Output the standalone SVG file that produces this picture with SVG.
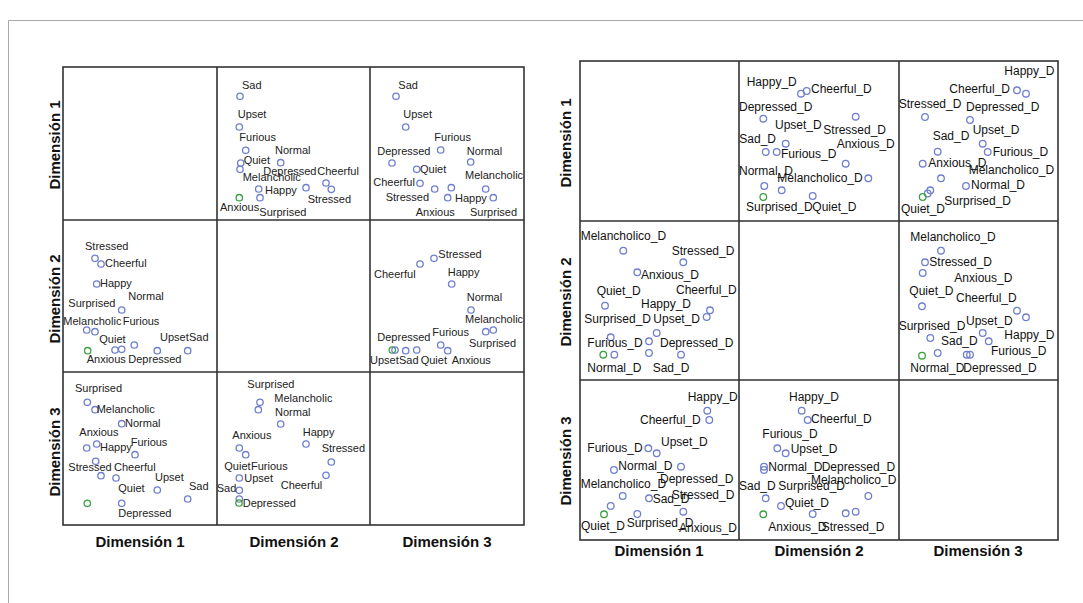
<svg xmlns="http://www.w3.org/2000/svg" width="1083" height="603" viewBox="0 0 1083 603">
<style>
.bg{fill:#fff}
.frame{fill:none;stroke:#a8a8a8;stroke-width:1}
.grid{fill:none;stroke:#333;stroke-width:1.6}
.p{fill:none;stroke:#6f7fcf;stroke-width:1.3}
.g{fill:none;stroke:#3aa040;stroke-width:1.3}
.t{font-family:"Liberation Sans",Arial,sans-serif;font-size:11px;fill:#222}
.tr{font-family:"Liberation Sans",Arial,sans-serif;font-size:12px;fill:#111}
.ax{font-family:"Liberation Sans",Arial,sans-serif;font-size:15px;font-weight:bold;fill:#111;text-anchor:middle}
</style>
<rect class="bg" x="0" y="0" width="1083" height="603"/>
<path class="frame" d="M8.5,603 V20.5 H1083"/>

<!-- LEFT MATRIX -->
<g id="left-grid">
<rect class="grid" x="63" y="67" width="461" height="458"/>
<path class="grid" d="M217,67 V525 M370,67 V525 M63,220 H524 M63,372 H524"/>
</g>
<g id="left-axis-labels">
<text class="ax" x="140" y="547">Dimensión 1</text>
<text class="ax" x="294" y="547">Dimensión 2</text>
<text class="ax" x="447" y="547">Dimensión 3</text>
<text class="ax" transform="translate(60,145) rotate(-90)">Dimensión 1</text>
<text class="ax" transform="translate(60,299) rotate(-90)">Dimensión 2</text>
<text class="ax" transform="translate(60,452) rotate(-90)">Dimensión 3</text>
</g>

<g id="L-r1c2">
<circle class="p" cx="240" cy="96.3" r="3.2"/>
<circle class="p" cx="239.3" cy="127" r="3.2"/>
<circle class="p" cx="245.7" cy="150.3" r="3.2"/>
<circle class="p" cx="240.7" cy="163" r="3.2"/>
<circle class="p" cx="240" cy="169.3" r="3.2"/>
<circle class="p" cx="280.7" cy="162.7" r="3.2"/>
<circle class="p" cx="326" cy="183" r="3.2"/>
<circle class="p" cx="331.3" cy="189.3" r="3.2"/>
<circle class="p" cx="258.7" cy="189" r="3.2"/>
<circle class="p" cx="260" cy="197.7" r="3.2"/>
<circle class="p" cx="306" cy="187.7" r="3.2"/>
<circle class="g" cx="239.3" cy="197.7" r="3.2"/>
<text class="t" x="242" y="88.7">Sad</text>
<text class="t" x="237.7" y="118">Upset</text>
<text class="t" x="239.3" y="141">Furious</text>
<text class="t" x="275" y="154.3">Normal</text>
<text class="t" x="243.7" y="164.3">Quiet</text>
<text class="t" x="263.3" y="175.3">Depressed</text>
<text class="t" x="242.7" y="181">Melancholic</text>
<text class="t" x="317.3" y="174.7">Cheerful</text>
<text class="t" x="265" y="194.3">Happy</text>
<text class="t" x="307.7" y="202.7">Stressed</text>
<text class="t" x="220" y="211.3">Anxious</text>
<text class="t" x="259.3" y="216">Surprised</text>
</g>

<g id="L-r1c3">
<circle class="p" cx="396" cy="96.3" r="3.2"/>
<circle class="p" cx="405.7" cy="127" r="3.2"/>
<circle class="p" cx="440.7" cy="150" r="3.2"/>
<circle class="p" cx="392" cy="163" r="3.2"/>
<circle class="p" cx="470.7" cy="162" r="3.2"/>
<circle class="p" cx="416.7" cy="169.3" r="3.2"/>
<circle class="p" cx="420" cy="183.3" r="3.2"/>
<circle class="p" cx="434.7" cy="189" r="3.2"/>
<circle class="p" cx="451.3" cy="187.7" r="3.2"/>
<circle class="p" cx="485.7" cy="189" r="3.2"/>
<circle class="p" cx="447.7" cy="197.7" r="3.2"/>
<circle class="p" cx="493.3" cy="197.7" r="3.2"/>
<text class="t" x="398.3" y="88.7">Sad</text>
<text class="t" x="403.3" y="118">Upset</text>
<text class="t" x="434.3" y="141">Furious</text>
<text class="t" x="377.3" y="154.7">Depressed</text>
<text class="t" x="466.7" y="154.7">Normal</text>
<text class="t" x="420" y="172.7">Quiet</text>
<text class="t" x="465" y="179.3">Melancholic</text>
<text class="t" x="373.3" y="186">Cheerful</text>
<text class="t" x="385.7" y="201">Stressed</text>
<text class="t" x="455" y="202">Happy</text>
<text class="t" x="415.7" y="216.3">Anxious</text>
<text class="t" x="470" y="216.3">Surprised</text>
</g>

<g id="L-r2c1">
<circle class="p" cx="95" cy="258.3" r="3.2"/>
<circle class="p" cx="101" cy="264" r="3.2"/>
<circle class="p" cx="96.7" cy="284" r="3.2"/>
<circle class="p" cx="121.7" cy="310" r="3.2"/>
<circle class="p" cx="86.7" cy="330" r="3.2"/>
<circle class="p" cx="95" cy="331.7" r="3.2"/>
<circle class="p" cx="115" cy="350" r="3.2"/>
<circle class="p" cx="121.7" cy="349.3" r="3.2"/>
<circle class="p" cx="134.3" cy="345" r="3.2"/>
<circle class="p" cx="157.3" cy="350.7" r="3.2"/>
<circle class="p" cx="187.7" cy="350.7" r="3.2"/>
<circle class="g" cx="87.7" cy="350.7" r="3.2"/>
<text class="t" x="85" y="250">Stressed</text>
<text class="t" x="105" y="267.3">Cheerful</text>
<text class="t" x="100" y="287.3">Happy</text>
<text class="t" x="128.3" y="300">Normal</text>
<text class="t" x="68.3" y="306.7">Surprised</text>
<text class="t" x="63.3" y="325">Melancholic</text>
<text class="t" x="122.7" y="325">Furious</text>
<text class="t" x="99.3" y="342.7">Quiet</text>
<text class="t" x="160" y="341">Upset</text>
<text class="t" x="189" y="341">Sad</text>
<text class="t" x="86.7" y="363.3">Anxious</text>
<text class="t" x="128.3" y="363.3">Depressed</text>
</g>

<g id="L-r2c3">
<circle class="p" cx="420" cy="264" r="3.2"/>
<circle class="p" cx="434" cy="258.3" r="3.2"/>
<circle class="p" cx="451.7" cy="284" r="3.2"/>
<circle class="p" cx="471" cy="310" r="3.2"/>
<circle class="p" cx="485.7" cy="331.7" r="3.2"/>
<circle class="p" cx="493.3" cy="330" r="3.2"/>
<circle class="p" cx="440.7" cy="345" r="3.2"/>
<circle class="p" cx="447.7" cy="350.7" r="3.2"/>
<circle class="g" cx="392.3" cy="350" r="3.2"/>
<circle class="p" cx="395" cy="350" r="3.2"/>
<circle class="p" cx="405.7" cy="350.7" r="3.2"/>
<circle class="p" cx="416.7" cy="350" r="3.2"/>
<text class="t" x="438.3" y="258.3">Stressed</text>
<text class="t" x="374" y="278.3">Cheerful</text>
<text class="t" x="447.7" y="275.7">Happy</text>
<text class="t" x="466.7" y="301">Normal</text>
<text class="t" x="465" y="323.3">Melancholic</text>
<text class="t" x="377.3" y="340.7">Depressed</text>
<text class="t" x="432.3" y="336">Furious</text>
<text class="t" x="469" y="346.7">Surprised</text>
<text class="t" x="370" y="364">Upset</text>
<text class="t" x="399" y="364">Sad</text>
<text class="t" x="420.7" y="364">Quiet</text>
<text class="t" x="451.7" y="364">Anxious</text>
</g>

<g id="L-r3c1">
<circle class="p" cx="87.3" cy="402.3" r="3.2"/>
<circle class="p" cx="95" cy="409.7" r="3.2"/>
<circle class="p" cx="121.7" cy="423.7" r="3.2"/>
<circle class="p" cx="86.7" cy="448" r="3.2"/>
<circle class="p" cx="96.7" cy="444" r="3.2"/>
<circle class="p" cx="135" cy="454.7" r="3.2"/>
<circle class="p" cx="95.7" cy="461.3" r="3.2"/>
<circle class="p" cx="101" cy="475.7" r="3.2"/>
<circle class="p" cx="116" cy="478" r="3.2"/>
<circle class="p" cx="157.3" cy="490" r="3.2"/>
<circle class="p" cx="187.7" cy="499" r="3.2"/>
<circle class="p" cx="121.7" cy="503.3" r="3.2"/>
<circle class="g" cx="87.3" cy="503.3" r="3.2"/>
<text class="t" x="75" y="392">Surprised</text>
<text class="t" x="96.7" y="413">Melancholic</text>
<text class="t" x="125" y="427">Normal</text>
<text class="t" x="79.3" y="436.3">Anxious</text>
<text class="t" x="100" y="451.3">Happy</text>
<text class="t" x="130.7" y="446.3">Furious</text>
<text class="t" x="68.3" y="470.7">Stressed</text>
<text class="t" x="114" y="470.7">Cheerful</text>
<text class="t" x="155" y="481.3">Upset</text>
<text class="t" x="118.3" y="492.3">Quiet</text>
<text class="t" x="189" y="490.3">Sad</text>
<text class="t" x="118.3" y="517">Depressed</text>
</g>

<g id="L-r3c2">
<circle class="p" cx="260" cy="402.3" r="3.2"/>
<circle class="p" cx="258.3" cy="409.7" r="3.2"/>
<circle class="p" cx="280.7" cy="424" r="3.2"/>
<circle class="p" cx="306" cy="444" r="3.2"/>
<circle class="p" cx="239.3" cy="448" r="3.2"/>
<circle class="p" cx="245.7" cy="454.7" r="3.2"/>
<circle class="p" cx="331.3" cy="462" r="3.2"/>
<circle class="p" cx="326" cy="475.3" r="3.2"/>
<circle class="p" cx="239.3" cy="478" r="3.2"/>
<circle class="p" cx="239.3" cy="490.3" r="3.2"/>
<circle class="p" cx="239.3" cy="499" r="3.2"/>
<circle class="g" cx="239" cy="503" r="3.2"/>
<text class="t" x="247.3" y="388">Surprised</text>
<text class="t" x="274.3" y="402">Melancholic</text>
<text class="t" x="275" y="416.3">Normal</text>
<text class="t" x="302.7" y="435.7">Happy</text>
<text class="t" x="232.3" y="438.7">Anxious</text>
<text class="t" x="321.7" y="452.3">Stressed</text>
<text class="t" x="224.3" y="469.7">Quiet</text>
<text class="t" x="251" y="469.7">Furious</text>
<text class="t" x="244.3" y="482.3">Upset</text>
<text class="t" x="280.7" y="488.7">Cheerful</text>
<text class="t" x="216.7" y="492.3">Sad</text>
<text class="t" x="242.7" y="507.3">Depressed</text>
</g>

<!-- RIGHT MATRIX -->
<g id="right-grid">
<rect class="grid" x="580" y="61" width="478" height="479"/>
<path class="grid" d="M739,61 V540 M899,61 V540 M580,221 H1058 M580,380 H1058"/>
</g>
<g id="right-axis-labels">
<text class="ax" x="659" y="556">Dimensión 1</text>
<text class="ax" x="819" y="556">Dimensión 2</text>
<text class="ax" x="978" y="556">Dimensión 3</text>
<text class="ax" transform="translate(571,143) rotate(-90)">Dimensión 1</text>
<text class="ax" transform="translate(571,302) rotate(-90)">Dimensión 2</text>
<text class="ax" transform="translate(571,461) rotate(-90)">Dimensión 3</text>
</g>

<g id="R-r1c2">
<circle class="p" cx="801" cy="93.7" r="3.3"/>
<circle class="p" cx="806.7" cy="91" r="3.3"/>
<circle class="p" cx="763.3" cy="118.7" r="3.3"/>
<circle class="p" cx="855.7" cy="116.7" r="3.3"/>
<circle class="p" cx="785.7" cy="143.7" r="3.3"/>
<circle class="p" cx="765.7" cy="152" r="3.3"/>
<circle class="p" cx="776.7" cy="152" r="3.3"/>
<circle class="p" cx="845.7" cy="163.7" r="3.3"/>
<circle class="p" cx="868.3" cy="178.3" r="3.3"/>
<circle class="p" cx="764.3" cy="186" r="3.3"/>
<circle class="p" cx="781.7" cy="190.3" r="3.3"/>
<circle class="p" cx="812.7" cy="196" r="3.3"/>
<circle class="g" cx="763.3" cy="197" r="3.3"/>
<text class="tr" x="746.7" y="86">Happy_D</text>
<text class="tr" x="811" y="92.7">Cheerful_D</text>
<text class="tr" x="739" y="111">Depressed_D</text>
<text class="tr" x="775" y="128.7">Upset_D</text>
<text class="tr" x="823.3" y="133.7">Stressed_D</text>
<text class="tr" x="739.3" y="143.3">Sad_D</text>
<text class="tr" x="836.7" y="148.3">Anxious_D</text>
<text class="tr" x="781" y="158.3">Furious_D</text>
<text class="tr" x="739" y="175.3">Normal_D</text>
<text class="tr" x="777.3" y="181.7">Melancholico_D</text>
<text class="tr" x="746" y="211">Surprised_D</text>
<text class="tr" x="812.3" y="211">Quiet_D</text>
</g>

<g id="R-r1c3">
<circle class="p" cx="1017" cy="90.3" r="3.3"/>
<circle class="p" cx="1026" cy="93.7" r="3.3"/>
<circle class="p" cx="925" cy="117" r="3.3"/>
<circle class="p" cx="970" cy="120" r="3.3"/>
<circle class="p" cx="982.7" cy="143.7" r="3.3"/>
<circle class="p" cx="987.7" cy="152" r="3.3"/>
<circle class="p" cx="937.7" cy="151.7" r="3.3"/>
<circle class="p" cx="922.7" cy="163.7" r="3.3"/>
<circle class="p" cx="941" cy="178.3" r="3.3"/>
<circle class="p" cx="966" cy="186" r="3.3"/>
<circle class="p" cx="930.3" cy="190.3" r="3.3"/>
<circle class="p" cx="927.7" cy="193.5" r="3.3"/>
<circle class="g" cx="922.7" cy="197" r="3.3"/>
<text class="tr" x="1004.3" y="75">Happy_D</text>
<text class="tr" x="949.3" y="92.7">Cheerful_D</text>
<text class="tr" x="898.7" y="107.7">Stressed_D</text>
<text class="tr" x="966" y="111">Depressed_D</text>
<text class="tr" x="972.7" y="134.3">Upset_D</text>
<text class="tr" x="932.7" y="140.3">Sad_D</text>
<text class="tr" x="992.7" y="156">Furious_D</text>
<text class="tr" x="928.3" y="167">Anxious_D</text>
<text class="tr" x="968.7" y="174.3">Melancholico_D</text>
<text class="tr" x="971" y="189.3">Normal_D</text>
<text class="tr" x="944.3" y="205">Surprised_D</text>
<text class="tr" x="901" y="212.7">Quiet_D</text>
</g>

<g id="R-r2c1">
<circle class="p" cx="623.3" cy="250.7" r="3.3"/>
<circle class="p" cx="683.3" cy="262.3" r="3.3"/>
<circle class="p" cx="637.3" cy="272.3" r="3.3"/>
<circle class="p" cx="605" cy="305.7" r="3.3"/>
<circle class="p" cx="710" cy="310.3" r="3.3"/>
<circle class="p" cx="706.7" cy="317" r="3.3"/>
<circle class="p" cx="656.7" cy="333" r="3.3"/>
<circle class="p" cx="610.7" cy="337.3" r="3.3"/>
<circle class="p" cx="649" cy="341.3" r="3.3"/>
<circle class="p" cx="614.3" cy="354.7" r="3.3"/>
<circle class="p" cx="649" cy="353" r="3.3"/>
<circle class="p" cx="681" cy="354.7" r="3.3"/>
<circle class="g" cx="603.3" cy="354.7" r="3.3"/>
<text class="tr" x="580.7" y="240.3">Melancholico_D</text>
<text class="tr" x="671.7" y="255.3">Stressed_D</text>
<text class="tr" x="641" y="278.7">Anxious_D</text>
<text class="tr" x="596.7" y="294.7">Quiet_D</text>
<text class="tr" x="676" y="294">Cheerful_D</text>
<text class="tr" x="641" y="308">Happy_D</text>
<text class="tr" x="584.3" y="323">Surprised_D</text>
<text class="tr" x="653.3" y="323">Upset_D</text>
<text class="tr" x="587.3" y="347.3">Furious_D</text>
<text class="tr" x="660" y="347.3">Depressed_D</text>
<text class="tr" x="587.3" y="371.7">Normal_D</text>
<text class="tr" x="652.7" y="371.7">Sad_D</text>
</g>

<g id="R-r2c3">
<circle class="p" cx="941" cy="250.7" r="3.3"/>
<circle class="p" cx="925" cy="262.3" r="3.3"/>
<circle class="p" cx="922.7" cy="273" r="3.3"/>
<circle class="p" cx="922" cy="306.3" r="3.3"/>
<circle class="p" cx="1017" cy="310.7" r="3.3"/>
<circle class="p" cx="1026" cy="317.3" r="3.3"/>
<circle class="p" cx="982.7" cy="333" r="3.3"/>
<circle class="p" cx="988.7" cy="341.3" r="3.3"/>
<circle class="p" cx="930.3" cy="338" r="3.3"/>
<circle class="p" cx="937.7" cy="353" r="3.3"/>
<circle class="p" cx="966.7" cy="354.7" r="3.3"/>
<circle class="p" cx="970" cy="354.7" r="3.3"/>
<circle class="g" cx="922" cy="355.7" r="3.3"/>
<text class="tr" x="910.3" y="241.3">Melancholico_D</text>
<text class="tr" x="929.3" y="266.3">Stressed_D</text>
<text class="tr" x="954.3" y="282">Anxious_D</text>
<text class="tr" x="909.3" y="295.3">Quiet_D</text>
<text class="tr" x="956" y="302">Cheerful_D</text>
<text class="tr" x="898.7" y="329.7">Surprised_D</text>
<text class="tr" x="966" y="324.7">Upset_D</text>
<text class="tr" x="1004.3" y="338.7">Happy_D</text>
<text class="tr" x="941" y="344.7">Sad_D</text>
<text class="tr" x="991" y="355.3">Furious_D</text>
<text class="tr" x="910.3" y="371.7">Normal_D</text>
<text class="tr" x="963.3" y="371.7">Depressed_D</text>
</g>

<g id="R-r3c1">
<circle class="p" cx="707.3" cy="410.7" r="3.3"/>
<circle class="p" cx="709.3" cy="420" r="3.3"/>
<circle class="p" cx="648.3" cy="448.3" r="3.3"/>
<circle class="p" cx="656.7" cy="453.3" r="3.3"/>
<circle class="p" cx="614" cy="470" r="3.3"/>
<circle class="p" cx="681" cy="466.7" r="3.3"/>
<circle class="p" cx="622.7" cy="496" r="3.3"/>
<circle class="p" cx="649" cy="498.3" r="3.3"/>
<circle class="p" cx="610.7" cy="506" r="3.3"/>
<circle class="p" cx="683.3" cy="511.7" r="3.3"/>
<circle class="p" cx="637.3" cy="514" r="3.3"/>
<circle class="g" cx="604" cy="514.3" r="3.3"/>
<text class="tr" x="687.7" y="401">Happy_D</text>
<text class="tr" x="640" y="424">Cheerful_D</text>
<text class="tr" x="661" y="445.7">Upset_D</text>
<text class="tr" x="587.3" y="452.3">Furious_D</text>
<text class="tr" x="618.3" y="470">Normal_D</text>
<text class="tr" x="660" y="483.3">Depressed_D</text>
<text class="tr" x="580.7" y="488.3">Melancholico_D</text>
<text class="tr" x="671.7" y="499">Stressed_D</text>
<text class="tr" x="652.7" y="503.3">Sad_D</text>
<text class="tr" x="626.7" y="526.7">Surprised_D</text>
<text class="tr" x="581" y="530">Quiet_D</text>
<text class="tr" x="679" y="532">Anxious_D</text>
</g>

<g id="R-r3c2">
<circle class="p" cx="801.7" cy="410.7" r="3.3"/>
<circle class="p" cx="807.7" cy="420" r="3.3"/>
<circle class="p" cx="777.3" cy="448.3" r="3.3"/>
<circle class="p" cx="785.7" cy="453.3" r="3.3"/>
<circle class="p" cx="764" cy="466.7" r="3.3"/>
<circle class="p" cx="764" cy="470" r="3.3"/>
<circle class="p" cx="868.3" cy="496" r="3.3"/>
<circle class="p" cx="765.7" cy="498.3" r="3.3"/>
<circle class="p" cx="781" cy="506" r="3.3"/>
<circle class="p" cx="812.7" cy="514" r="3.3"/>
<circle class="p" cx="845.7" cy="513.3" r="3.3"/>
<circle class="p" cx="855.7" cy="511.7" r="3.3"/>
<circle class="g" cx="763.3" cy="514.3" r="3.3"/>
<text class="tr" x="789" y="400.7">Happy_D</text>
<text class="tr" x="811" y="423.3">Cheerful_D</text>
<text class="tr" x="762.3" y="437.7">Furious_D</text>
<text class="tr" x="790.7" y="453.3">Upset_D</text>
<text class="tr" x="768.3" y="471">Normal_D</text>
<text class="tr" x="821.7" y="471">Depressed_D</text>
<text class="tr" x="811" y="484">Melancholico_D</text>
<text class="tr" x="739" y="490">Sad_D</text>
<text class="tr" x="778.3" y="490">Surprised_D</text>
<text class="tr" x="785" y="506.7">Quiet_D</text>
<text class="tr" x="768.3" y="531">Anxious_D</text>
<text class="tr" x="821.7" y="531">Stressed_D</text>
</g>
</svg>
